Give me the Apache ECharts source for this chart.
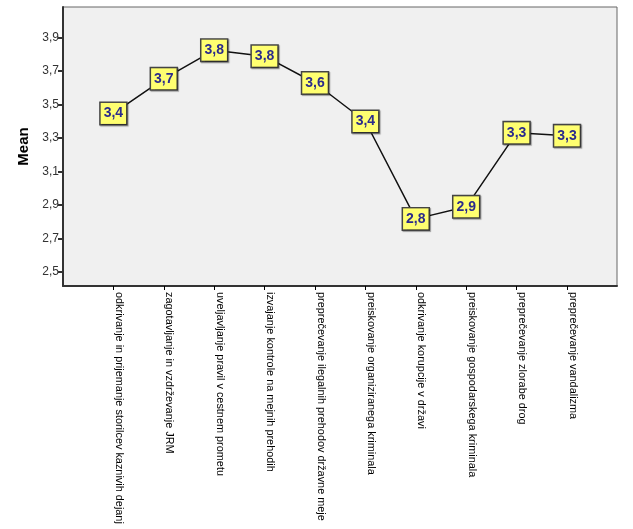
<!DOCTYPE html>
<html>
<head>
<meta charset="utf-8">
<script src="https://cdn.jsdelivr.net/npm/echarts@6/dist/echarts.min.js"></script>
<style>
html,body{margin:0;padding:0;background:#fff;}
#chart{width:633px;height:529px;}
</style>
</head>
<body>
<div id="chart"></div>
<script>
const categories = [
  "odkrivanje in prijemanje storilcev kaznivih dejanj",
  "zagotavljanje in vzdrževanje JRM",
  "uveljavljanje pravil v cestnem prometu",
  "izvajanje kontrole na mejnih prehodih",
  "preprečevanje ilegalnih prehodov državne meje",
  "preiskovanje organiziranega kriminala",
  "odkrivanje korupcije v državi",
  "preiskovanje gospodarskega kriminala",
  "preprečevanje zlorabe drog",
  "preprečevanje vandalizma"
];
const means = [3.447, 3.654, 3.825, 3.789, 3.629, 3.399, 2.817, 2.889, 3.331, 3.313];
const yTicks = [2.5, 2.7, 2.9, 3.1, 3.3, 3.5, 3.7, 3.9];
const yMin = 2.416, yMax = 4.083;

const comma = v => v.toFixed(1).replace('.', ',');
const chart = echarts.init(document.getElementById('chart'), null, {renderer: 'canvas'});
const gridTop = 7, gridBottom = 243;
chart.setOption({
  animation: false,
  textStyle: {fontFamily: 'Liberation Sans, Arial, sans-serif'},
  grid: [
    {left: 63, right: 16, top: gridTop, bottom: gridBottom, show: true,
     backgroundColor: '#f0f0f0', borderColor: '#666', borderWidth: 1},
    {left: 113.4, right: 66, top: gridTop, bottom: gridBottom}
  ],
  xAxis: [
    {gridIndex: 0, type: 'value', min: 0, max: 1,
     axisLine: {show: true, onZero: false, lineStyle: {color: '#333', width: 2}},
     axisTick: {show: false}, axisLabel: {show: false}, splitLine: {show: false}},
    {gridIndex: 1, type: 'category', data: categories, boundaryGap: false,
     axisLine: {show: false},
     axisTick: {show: true, alignWithLabel: true, length: 4, lineStyle: {color: '#000', width: 1}},
     axisLabel: {interval: 0, rotate: -90, margin: 6, fontSize: 10.9, color: '#000',
                 verticalAlign: 'bottom',
                 fontFamily: 'Liberation Sans, Arial, sans-serif'},
     splitLine: {show: false}}
  ],
  yAxis: [
    {gridIndex: 0, type: 'value', min: yMin, max: yMax,
     name: 'Mean', nameLocation: 'middle', nameGap: 27, nameRotate: 90,
     nameTextStyle: {fontSize: 15, fontWeight: 'bold', color: '#000'},
     axisLine: {show: true, lineStyle: {color: '#333', width: 2}},
     axisTick: {show: true, length: 5, customValues: yTicks, lineStyle: {color: '#333', width: 2}},
     axisLabel: {customValues: yTicks, formatter: v => comma(v), fontSize: 12, color: '#333', margin: 4},
     splitLine: {show: false}},
    {gridIndex: 1, type: 'value', min: yMin, max: yMax, show: false, splitLine: {show: false}}
  ],
  series: [{
    type: 'line', xAxisIndex: 1, yAxisIndex: 1, data: means,
    symbol: 'circle', symbolSize: 1, showSymbol: true,
    itemStyle: {color: '#000'},
    lineStyle: {color: '#111', width: 1.5},
    label: {
      show: true, position: 'inside',
      formatter: p => comma(p.value),
      fontFamily: 'Liberation Sans Narrow, Liberation Sans, Arial, sans-serif',
      fontWeight: 'bold', fontSize: 14, color: '#2b2b8c',
      backgroundColor: '#ffff70', borderColor: '#444', borderWidth: 1.5,
      padding: [4, 3, 3, 3], lineHeight: 14,
      shadowColor: 'rgba(0,0,0,0.35)', shadowOffsetX: 1, shadowOffsetY: 1, shadowBlur: 1
    }
  }]
});
</script>
</body>
</html>
